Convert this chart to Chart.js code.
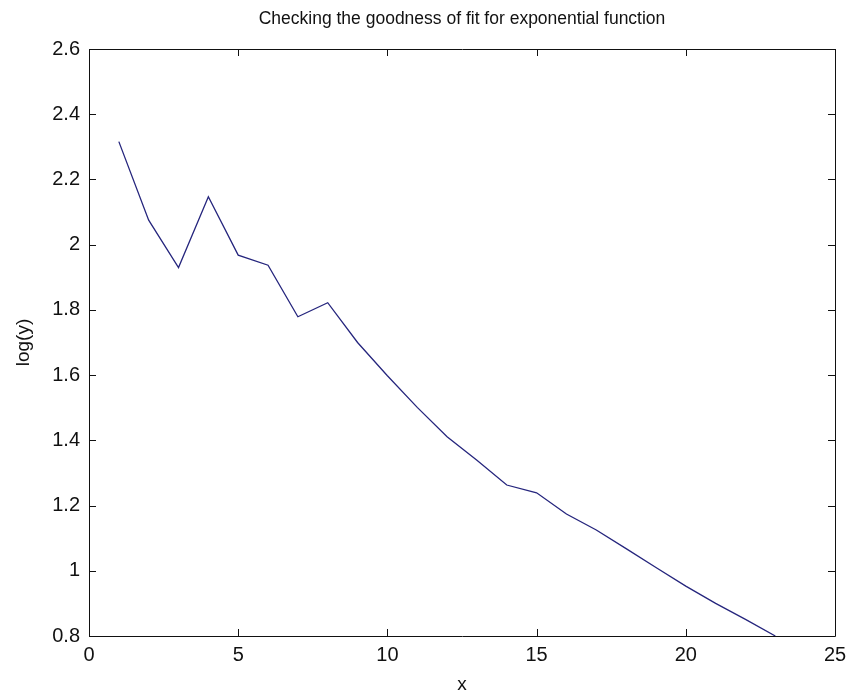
<!DOCTYPE html>
<html>
<head>
<meta charset="utf-8">
<script src="https://cdn.jsdelivr.net/npm/chart.js@4/dist/chart.umd.min.js"></script>
<style>
  html, body { margin: 0; padding: 0; background: #ffffff; }
  #wrap { width: 850px; height: 692px; }
</style>
</head>
<body>
<div id="wrap"><canvas id="c" width="850" height="692"></canvas></div>
<script>
const xValues = [1, 2, 3, 4, 5, 6, 7, 8, 9, 10, 11, 12, 13, 14, 15, 16, 17, 18, 19, 20, 21, 22, 23];
const logYValues = [2.316, 2.075, 1.930, 2.147, 1.968, 1.937, 1.779, 1.822, 1.700, 1.598, 1.501, 1.411, 1.339, 1.263, 1.239, 1.174, 1.125, 1.068, 1.010, 0.953, 0.900, 0.851, 0.800];
const xTicks = [0, 5, 10, 15, 20, 25];
const yTicks = [0.8, 1, 1.2, 1.4, 1.6, 1.8, 2, 2.2, 2.4, 2.6];
const titleText = 'Checking the goodness of fit for exponential function';
const xTitle = 'x';
const yTitle = 'log(y)';

const FONT = "'Liberation Sans', Arial, sans-serif";

const points = xValues.map((x, i) => ({ x: x, y: logYValues[i] }));

const boxTicks = {
  id: 'boxTicks',
  afterDatasetsDraw(chart) {
    const ctx = chart.ctx;
    const a = chart.chartArea;
    const xs = chart.scales.x, ys = chart.scales.y;
    const L = 7;
    ctx.save();
    ctx.strokeStyle = '#111111';
    ctx.lineWidth = 1;
    ctx.beginPath();
    ctx.rect(Math.round(a.left) + 0.5, Math.round(a.top) + 0.5,
             Math.round(a.right - a.left), Math.round(a.bottom - a.top));
    ctx.stroke();
    ctx.beginPath();
    xTicks.forEach(v => {
      const px = Math.round(xs.getPixelForValue(v)) + 0.5;
      ctx.moveTo(px, a.bottom); ctx.lineTo(px, a.bottom - L);
      ctx.moveTo(px, a.top); ctx.lineTo(px, a.top + L);
    });
    yTicks.forEach(v => {
      const py = Math.round(ys.getPixelForValue(v)) + 0.5;
      ctx.moveTo(a.left, py); ctx.lineTo(a.left + L, py);
      ctx.moveTo(a.right, py); ctx.lineTo(a.right - L, py);
    });
    ctx.stroke();
    // title centred over the plot area
    ctx.fillStyle = '#111111';
    ctx.font = "17.5px " + FONT;
    ctx.textAlign = 'center';
    ctx.textBaseline = 'middle';
    ctx.fillText(titleText, (a.left + a.right) / 2, 19);
    ctx.restore();
  }
};

new Chart(document.getElementById('c'), {
  type: 'line',
  data: {
    datasets: [{
      data: points,
      borderColor: '#25257d',
      borderWidth: 1.3,
      pointRadius: 0,
      tension: 0,
      fill: false
    }]
  },
  options: {
    responsive: false,
    animation: false,
    devicePixelRatio: 1,
    layout: { padding: { left: 0, right: 15, top: 49, bottom: 0 } },
    plugins: {
      legend: { display: false },
      tooltip: { enabled: false },
      title: { display: false }
    },
    scales: {
      x: {
        type: 'linear',
        min: 0, max: 25,
        afterFit(scale) { scale.height = 56; scale.paddingRight = 0; scale.paddingLeft = 0; },
        afterBuildTicks(scale) { scale.ticks = xTicks.map(v => ({ value: v })); },
        border: { display: false },
        grid: { display: false, drawTicks: false },
        ticks: {
          padding: 7,
          color: '#111111',
          font: { family: FONT, size: 20 },
          maxRotation: 0,
          callback: v => String(v)
        },
        title: {
          display: true,
          text: xTitle,
          color: '#111111',
          font: { family: FONT, size: 19, lineHeight: 1 },
          padding: { top: 0, bottom: -2 }
        }
      },
      y: {
        type: 'linear',
        min: 0.8, max: 2.6,
        afterFit(scale) { scale.width = 89; scale.paddingTop = 0; scale.paddingBottom = 0; },
        afterBuildTicks(scale) { scale.ticks = yTicks.map(v => ({ value: v })); },
        border: { display: false },
        grid: { display: false, drawTicks: false },
        ticks: {
          padding: 9,
          color: '#111111',
          font: { family: FONT, size: 20 },
          callback: v => String(parseFloat(Number(v).toFixed(1)))
        },
        title: {
          display: true,
          text: yTitle,
          color: '#111111',
          font: { family: FONT, size: 19, lineHeight: 1.2 },
          padding: { top: 12, bottom: 0 }
        }
      }
    }
  },
  plugins: [boxTicks]
});
</script>
</body>
</html>
